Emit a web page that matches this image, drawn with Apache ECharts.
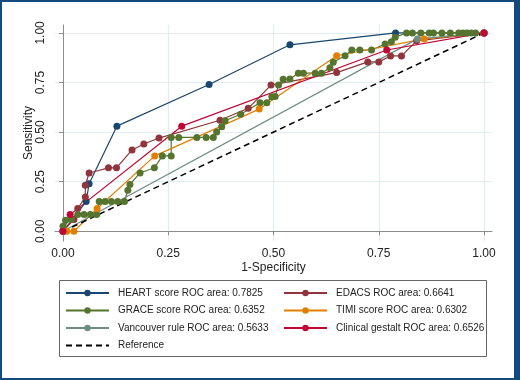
<!DOCTYPE html>
<html>
<head>
<meta charset="utf-8">
<script src="https://cdn.jsdelivr.net/npm/echarts@6.0.0/dist/echarts.min.js"></script>
<style>
  html, body { margin: 0; padding: 0; background: #ffffff; }
  #wrap { position: relative; width: 520px; height: 380px; }
  #chart { position: absolute; left: 0; top: 0; width: 520px; height: 380px; }
  /* dark blue frame round the whole figure */
  #frame {
    position: absolute; left: 0; top: 0; width: 520px; height: 380px;
    box-sizing: border-box; border-style: solid; border-color: #134a7c;
    border-width: 2px 6px 2px 2px; pointer-events: none;
  }
</style>
</head>
<body>
<div id="wrap">
  <div id="chart"></div>
  <div id="frame"></div>
</div>
<script>
// ROC points [1-specificity, sensitivity]
const heartPts = [[0, 0], [0.055, 0.15], [0.062, 0.24], [0.128, 0.53], [0.347, 0.74], [0.539, 0.94], [0.79, 1], [1, 1]];
const edacsPts = [[0, 0], [0.026, 0.06], [0.035, 0.115], [0.053, 0.173], [0.053, 0.232], [0.062, 0.294], [0.108, 0.32],
  [0.127, 0.32], [0.164, 0.41], [0.192, 0.44], [0.228, 0.47], [0.373, 0.56], [0.44, 0.62], [0.494, 0.737], [0.65, 0.8],
  [0.724, 0.854], [0.75, 0.854], [0.778, 0.884], [0.804, 0.884], [0.84, 0.96], [1, 1]];
const gracePts = [[0, 0], [0, 0.025], [0.006, 0.055], [0.02, 0.06], [0.035, 0.084], [0.05, 0.084], [0.065, 0.084],
  [0.08, 0.084], [0.086, 0.15], [0.1, 0.15], [0.115, 0.15], [0.13, 0.15], [0.146, 0.15], [0.154, 0.207], [0.159, 0.236],
  [0.183, 0.294], [0.217, 0.32], [0.236, 0.38], [0.257, 0.38], [0.257, 0.473], [0.275, 0.473], [0.318, 0.473],
  [0.34, 0.473], [0.357, 0.473], [0.365, 0.5], [0.377, 0.527], [0.385, 0.557], [0.422, 0.59], [0.468, 0.648],
  [0.484, 0.648], [0.496, 0.678], [0.504, 0.68], [0.512, 0.737], [0.523, 0.766], [0.539, 0.768], [0.559, 0.797],
  [0.571, 0.797], [0.599, 0.797], [0.614, 0.797], [0.634, 0.825], [0.642, 0.852], [0.67, 0.885], [0.686, 0.914],
  [0.705, 0.914], [0.733, 0.914], [0.765, 0.944], [0.78, 0.956], [0.789, 0.978], [0.816, 1], [0.83, 1], [0.85, 1],
  [0.87, 1], [0.88, 1], [0.9, 1], [0.92, 1], [0.94, 1], [0.95, 1], [0.96, 1], [0.97, 1], [0.98, 1], [1, 1]];
const timiPts = [[0, 0], [0.009, 0], [0.026, 0], [0.081, 0.115], [0.218, 0.38], [0.466, 0.616], [0.65, 0.885], [0.858, 0.97], [1, 1]];
const vancouverPts = [[0, 0], [0.842, 0.97], [1, 1]];
const gestaltPts = [[0, 0], [0.017, 0.084], [0.282, 0.53], [0.769, 0.914], [1, 1]];
const referencePts = [[0, 0], [1, 1]];

const tickValues = [0, 0.25, 0.5, 0.75, 1];

const seriesNames = [
  'HEART score ROC area: 0.7825',
  'EDACS ROC area: 0.6641',
  'GRACE score ROC area: 0.6352',
  'TIMI score ROC area: 0.6302',
  'Vancouver rule ROC area: 0.5633',
  'Clinical gestalt ROC area: 0.6526',
  'Reference'
];
const seriesColors = ['#1a476f', '#90353b', '#55752f', '#e37e00', '#6e8e84', '#c10534', '#000000'];
const seriesPts = [heartPts, edacsPts, gracePts, timiPts, vancouverPts, gestaltPts, referencePts];

const font = 'Liberation Sans, Arial, sans-serif';
const chart = echarts.init(document.getElementById('chart'));

const series = seriesPts.map((pts, i) => {
  const isRef = i === 6;
  return {
    name: seriesNames[i],
    type: 'line',
    data: pts,
    color: seriesColors[i],
    symbol: isRef ? 'none' : 'circle',
    symbolSize: 7,
    showAllSymbol: true,
    animation: false,
    lineStyle: { width: isRef ? 1.5 : 1.2, type: isRef ? [6, 4] : 'solid' },
    itemStyle: { color: seriesColors[i] },
    emphasis: { disabled: true }
  };
});

const axisCommon = {
  type: 'value',
  nameLocation: 'middle',
  nameMoveOverlap: false,
  nameTextStyle: { fontFamily: font, fontSize: 12, color: '#222' },
  axisLine: { show: true, lineStyle: { color: '#8c8c8c', width: 1 } },
  axisTick: { show: true, length: 4, customValues: tickValues, lineStyle: { color: '#8c8c8c' } },
  axisLabel: {
    customValues: tickValues,
    fontFamily: font, fontSize: 12, color: '#222',
    formatter: v => v.toFixed(2)
  },
  splitLine: { show: true, lineStyle: { color: '#e2edf1', width: 1 } }
};

const legendCommon = {
  orient: 'vertical',
  padding: 0,
  itemWidth: 43,
  itemHeight: 8,
  itemGap: 3.5,
  selectedMode: false,
  textStyle: { fontFamily: font, fontSize: 10, color: '#222', lineHeight: 14, padding: [0, 0, 0, 4] }
};

chart.setOption({
  backgroundColor: '#ffffff',
  animation: false,
  grid: { left: 55, right: 28, top: 25, bottom: 139 },
  xAxis: Object.assign({}, axisCommon, {
    name: '1-Specificity', nameGap: 21,
    min: -0.019, max: 1.019,
    axisLabel: Object.assign({}, axisCommon.axisLabel, { margin: 7 })
  }),
  yAxis: Object.assign({}, axisCommon, {
    name: 'Sensitivity', nameGap: 20, nameRotate: 90,
    min: -0.049, max: 1.04,
    axisLabel: Object.assign({}, axisCommon.axisLabel, { rotate: 90, margin: 8 })
  }),
  legend: [
    Object.assign({}, legendCommon, {
      left: 65, top: 286,
      data: [seriesNames[0], seriesNames[2], seriesNames[4],
        { name: seriesNames[6], itemStyle: { opacity: 0 } }]
    }),
    Object.assign({}, legendCommon, { left: 283, top: 286, data: [seriesNames[1], seriesNames[3], seriesNames[5]] })
  ],
  graphic: [{
    type: 'rect',
    shape: { x: 59.5, y: 280.5, width: 427, height: 76 },
    style: { fill: 'none', stroke: '#666666', lineWidth: 1 },
    silent: true
  }],
  series: series
});
</script>
</body>
</html>
